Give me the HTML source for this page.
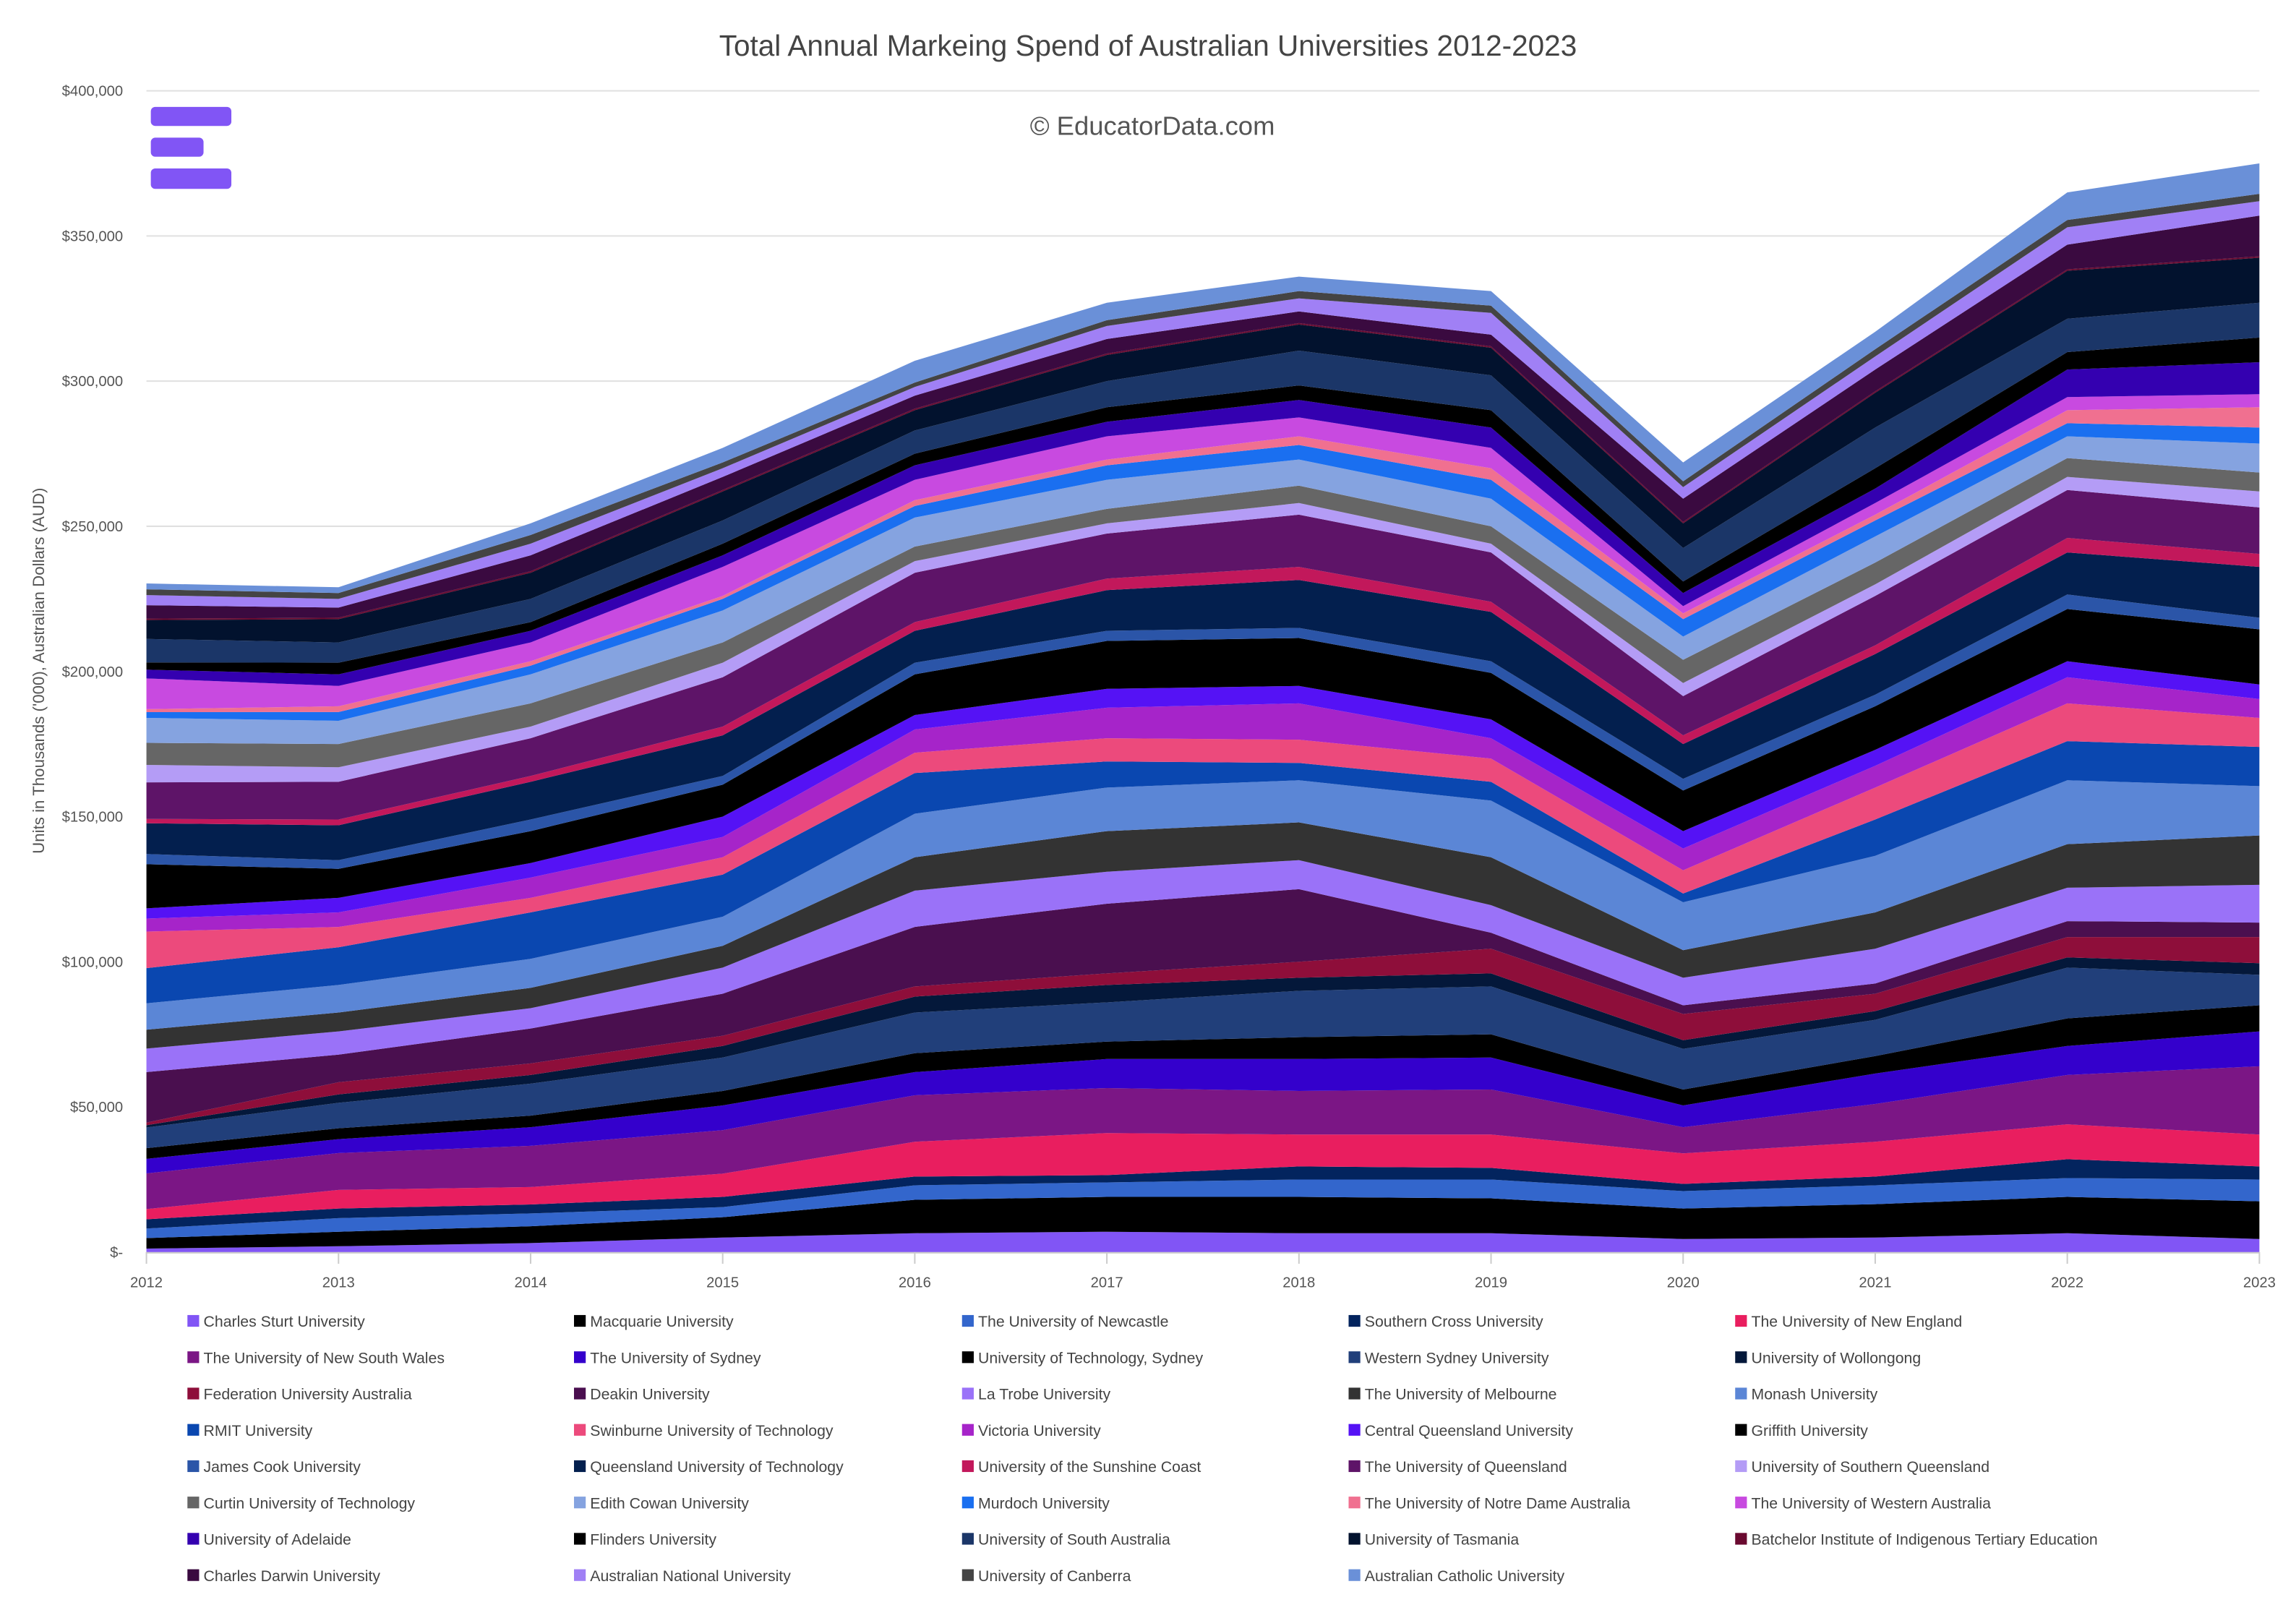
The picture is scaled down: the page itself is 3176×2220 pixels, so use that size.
<!DOCTYPE html>
<html><head><meta charset="utf-8">
<style>
html,body{margin:0;padding:0;background:#fff;}
svg{display:block;font-family:"Liberation Sans",sans-serif;}
</style></head>
<body>
<svg id="chart" width="3176" height="2220" viewBox="0 0 1568 1096" xmlns="http://www.w3.org/2000/svg">
  <text x="784" y="38" text-anchor="middle" font-size="20" fill="#444">Total Annual Markeing Spend of Australian Universities 2012-2023</text>
  <g id="grid"></g>
  <g id="areas"></g>
  <g id="axes"></g>
  <text x="787" y="92" text-anchor="middle" font-size="18" fill="#555">© EducatorData.com</text>
  <g fill="#8155f5">
    <rect x="103" y="73" width="55" height="13" rx="3"/>
    <rect x="103" y="94" width="36" height="13" rx="3"/>
    <rect x="103" y="115" width="55" height="14" rx="3"/>
  </g>
  <text transform="translate(30,458) rotate(-90)" text-anchor="middle" font-size="11" fill="#555">Units in Thousands ('000), Australian Dollars (AUD)</text>
  <g id="legend"></g>
</svg>
<script>
const years = [2012,2013,2014,2015,2016,2017,2018,2019,2020,2021,2022,2023];
const yTicks = [0,50,100,150,200,250,300,350,400];
const yTickLabels = ["$-","$50,000","$100,000","$150,000","$200,000","$250,000","$300,000","$350,000","$400,000"];
const seriesNames = ["Charles Sturt University","Macquarie University","The University of Newcastle","Southern Cross University","The University of New England","The University of New South Wales","The University of Sydney","University of Technology, Sydney","Western Sydney University","University of Wollongong","Federation University Australia","Deakin University","La Trobe University","The University of Melbourne","Monash University","RMIT University","Swinburne University of Technology","Victoria University","Central Queensland University","Griffith University","James Cook University","Queensland University of Technology","University of the Sunshine Coast","The University of Queensland","University of Southern Queensland","Curtin University of Technology","Edith Cowan University","Murdoch University","The University of Notre Dame Australia","The University of Western Australia","University of Adelaide","Flinders University","University of South Australia","University of Tasmania","Batchelor Institute of Indigenous Tertiary Education","Charles Darwin University","Australian National University","University of Canberra","Australian Catholic University"];
const seriesColors = ["#8155f5","#000000","#3366cc","#03245e","#e91e5f","#7b1685","#3400cc","#000000","#213f7a","#04183a","#8e0e3a","#4a0f4f","#9a72f8","#333333","#5b86d6","#0a47b0","#ec4a7c","#a624c9","#5512f5","#000000","#2b55a8","#031f4e","#c2185b","#5e1468","#b49cf6","#666666","#85a3e0","#1a6ff0","#f07090","#c84ae0","#3400b0","#000000","#1b3668","#02122e","#6a0a30","#3a0a40","#a080f5","#444444","#6a90d8"];
const csu = [1.2,2.0,3.1,5,6.5,7,6.5,6.5,4.5,5,6.5,4.5];
const macquarie = [3.6,5.0,5.8,7,11.5,12,12.5,12,10.5,11.5,12.5,13];
const newcastle = [3.3,4.7,4.4,3.5,5,5,6,6.5,6,6.5,6.5,7.5];
const southernCross = [3.2,3.3,3.1,3.5,3,2.5,4.5,4,2.5,3,6.5,4.5];
const newEngland = [3.5,6.4,6.0,8,12,14.5,11,11.5,10.5,12,12,11];
const unsw = [12.3,12.7,14.2,15,16,15.5,15,15.5,9,13,17,23.5];
const sydney = [5.0,4.8,6.4,8.5,8,10,11,11,7.5,10.5,10,12];
const uts = [3.7,3.75,4,5,6.5,6,7.5,8,5.5,6,9.5,9];
const westernSydney = [7.1,8.75,11,11.5,14,13.5,16,16.5,14,12.5,17.5,10.5];
const wollongong = [0.8,2.9,3,4,5.5,6,4.5,4.5,3,3,3.5,4];
const federation = [0.9,4.2,4,3.5,3.5,4,5.5,8.5,9,6,7,9];
const deakin = [17.4,9.5,12,14.5,20.5,24,25,5.5,3,3.5,5.5,5];
const laTrobe = [8.1,8,7,9,12.5,11,10,9.5,9.5,12,11.5,13];
const melbourne = [6.5,6.5,7,7.5,11.5,14,13,16.5,9.5,12.5,15,17];
const monash = [9.1,9.5,10,10,15,15,14.5,19.5,16.5,19.5,22,17];
const rmit = [12.1,13,16,14.5,14,9,6,6.5,3,12.5,13.5,13.5];
const swinburne = [12.6,7,5,6,7,8,8,8,8,11,13,10];
const victoria = [4.5,5,7,7,8,10.5,12.5,7,7.5,7.5,9,6.5];
const cqu = [3.5,5,5,7,5,6.5,6,6.5,6,5.5,5.5,5];
const griffith = [15.2,10,11,11,14,16.5,16.5,16,14,15,18,19];
const jcu = [3.5,3,4,3,4,3.5,3.5,4,4,4,5,4];
const qut = [10.6,12,13,14,11,14,16.5,17,12,14,14.5,17.5];
const sunshineCoast = [1.5,2,2,3,3,4,4.5,3.5,3,3,5,4.5];
const uq = [12.6,13,13,17,17,15.5,18,17,13.5,17,16.5,16];
const usq = [6,5,4,5,4,3.5,4,3,4.5,4,4.5,5.5];
const curtin = [7.6,8,8,7,5,5,6,6,8,7.5,6.5,6.5];
const edithCowan = [8.6,8,10,11,10,10,9,9.5,8,9,7.5,10];
const murdoch = [2,3,3,4,4,5,5,6.5,6,5.5,4.5,5.5];
const notreDame = [1,2,1.5,1,2,2,3,4,2,2,4.5,7];
const uwa = [10.6,7,6.5,10,7,8,6.5,7,2.5,4,4.5,4.5];
const adelaide = [3,4,4,4,5,5,6,7,4.5,5,9.5,11];
const flinders = [2.5,4,3,4,4,5,5,6,4,7,6,8.5];
const uniSA = [8.1,7,8,8,8,9,12,12,11.5,14,11.5,12];
const tasmania = [6.5,8,9,10,7,9,9,9.5,8.5,12,16.5,15.5];
const batchelor = [0.5,0.5,0.5,0.5,0.5,0.5,0.5,0.5,0.5,0.5,0.5,0.5];
const cdu = [4.6,3.5,5.5,4.5,4.5,5,4,4,8,7.5,8.5,14];
const anu = [3.5,3,4,3,3,4.5,4.5,7.5,4,4.5,6,5];
const canberra = [2,2,3,2,1.5,2,2.5,2.5,2,2.5,2.5,2.5];
const acu = [2,2,4,5,7.5,6,5,5,6.5,6,9.5,10.5];
const seriesValues = [csu,macquarie,newcastle,southernCross,newEngland,unsw,sydney,uts,westernSydney,wollongong,federation,deakin,laTrobe,melbourne,monash,rmit,swinburne,victoria,cqu,griffith,jcu,qut,sunshineCoast,uq,usq,curtin,edithCowan,murdoch,notreDame,uwa,adelaide,flinders,uniSA,tasmania,batchelor,cdu,anu,canberra,acu];

const NS = "http://www.w3.org/2000/svg";
const X0 = 100, X1 = 1543, Y0 = 855, YTOP = 62, YMAX = 400;
function xScale(i){ return X0 + i*(X1-X0)/(years.length-1); }
function yScale(v){ return Y0 - v*(Y0-YTOP)/YMAX; }
function mk(tag, attrs, parent){ const e=document.createElementNS(NS,tag); for(const k in attrs) e.setAttribute(k,attrs[k]); parent.appendChild(e); return e; }

const grid=document.getElementById('grid'), axes=document.getElementById('axes'), areas=document.getElementById('areas'), legend=document.getElementById('legend');
yTicks.forEach((t,i)=>{
  if(t>0){
    const l=mk('line',{x1:X0,x2:X1,y1:yScale(t),y2:yScale(t),stroke:'#e0e0e0','stroke-width':1},grid);
    
    
  }
  const tx=mk('text',{x:84,y:yScale(t)+3.5,'text-anchor':'end','font-size':10,fill:'#555'},axes);
  tx.textContent=yTickLabels[i];
  
  
});

let base = years.map(()=>0);
seriesValues.forEach((vals,s)=>{
  const top = base.map((b,i)=>b+vals[i]);
  let d='M'+years.map((_,i)=>xScale(i).toFixed(2)+','+yScale(top[i]).toFixed(2)).join('L');
  for(let i=years.length-1;i>=0;i--) d+='L'+xScale(i).toFixed(2)+','+yScale(base[i]).toFixed(2);
  d+='Z';
  const p=mk('path',{d:d,fill:seriesColors[s]},areas);
  
  
  base = top;
});

const ax=mk('line',{x1:X0,x2:X1,y1:Y0+0.5,y2:Y0+0.5,stroke:'#ccc','stroke-width':1},axes);


years.forEach((yr,i)=>{
  const tk=mk('line',{x1:xScale(i),x2:xScale(i),y1:Y0,y2:Y0+8,stroke:'#ccc','stroke-width':1},axes);
  
  
  const t=mk('text',{x:xScale(i),y:879,'text-anchor':'middle','font-size':10,fill:'#555'},axes);
  t.textContent=yr;
  
  
});

const colX=[128,392,657,921,1185];
seriesNames.forEach((n,s)=>{
  const c=s%5, r=Math.floor(s/5);
  const g=mk('g',{},legend);
  
  
  mk('rect',{x:colX[c],y:898+r*24.8,width:8,height:8,fill:seriesColors[s]},g);
  const t=mk('text',{x:colX[c]+11,y:906+r*24.8,'font-size':10.5,fill:'#444'},g);
  t.textContent=n;
});
</script>
</body></html>
